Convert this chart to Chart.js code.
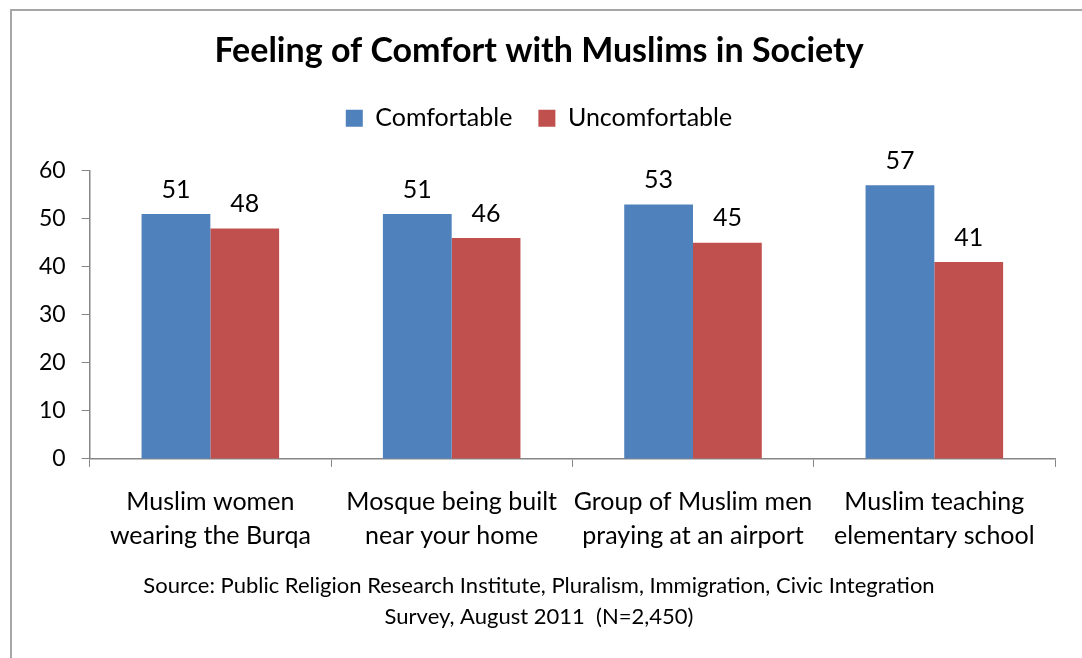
<!DOCTYPE html>
<html>
<head>
<meta charset="utf-8">
<script src="https://cdn.jsdelivr.net/npm/chart.js@4"></script>
<style>
  body { margin: 0; background: #fff; }
  #frame { position: absolute; left: 10px; top: 9px; width: 1100px; height: 700px; border: 2px solid #a6a6a6; box-sizing: border-box; }
  #chart { position: absolute; left: 0; top: 0; }
</style>
</head>
<body>
<div id="frame"></div>
<canvas id="chart" width="1082" height="658"></canvas>
<script>
var categories = [
    ["Muslim women", "wearing the Burqa"],
    ["Mosque being built", "near your home"],
    ["Group of Muslim men", "praying at an airport"],
    ["Muslim teaching", "elementary school"]
];
var comfortable = [51, 51, 53, 57];
var uncomfortable = [48, 46, 45, 41];

var fontFamily = "Lato, 'Open Sans', sans-serif";

// draws the value above each bar
var valueLabels = {
    id: "valueLabels",
    afterDatasetsDraw: function(chart) {
        var ctx = chart.ctx;
        ctx.save();
        ctx.font = "25px " + fontFamily;
        ctx.fillStyle = "#000";
        ctx.textAlign = "center";
        ctx.textBaseline = "bottom";
        chart.data.datasets.forEach(function(ds, i) {
            chart.getDatasetMeta(i).data.forEach(function(bar, j) {
                ctx.fillText(ds.data[j], bar.x, bar.y - 12);
            });
        });
        ctx.restore();
    }
};

// extra room under the legend
var legendGap = {
    id: "legendGap",
    beforeInit: function(chart) {
        var fit = chart.legend.fit;
        chart.legend.fit = function() {
            fit.call(this);
            this.height += 30;
        };
    }
};

new Chart(document.getElementById("chart"), {
    type: "bar",
    data: {
        labels: categories,
        datasets: [
            { label: "Comfortable", data: comfortable, backgroundColor: "#4F81BD" },
            { label: "Uncomfortable", data: uncomfortable, backgroundColor: "#C0504D" }
        ]
    },
    options: {
        responsive: false,
        animation: false,
        layout: { padding: { left: 23, right: 27, top: 31, bottom: 26 } },
        datasets: { bar: { categoryPercentage: 0.57, barPercentage: 1.0 } },
        plugins: {
            title: {
                display: true,
                text: "Feeling of Comfort with Muslims in Society",
                color: "#000",
                font: { family: fontFamily, size: 34, weight: "bold" },
                padding: { top: 0, bottom: 8 }
            },
            subtitle: {
                display: true,
                position: "bottom",
                text: ["Source: Public Religion Research Institute, Pluralism, Immigration, Civic Integration",
                       "Survey, August 2011  (N=2,450)"],
                color: "#000",
                font: { family: fontFamily, size: 22, lineHeight: 1.4 },
                padding: { top: 0, bottom: 0 }
            },
            legend: {
                labels: {
                    color: "#000",
                    boxWidth: 17,
                    boxHeight: 17,
                    padding: 26,
                    font: { family: fontFamily, size: 25 }
                }
            },
            tooltip: { enabled: false }
        },
        scales: {
            x: {
                grid: { drawOnChartArea: false, color: "#868686", tickLength: 8, offset: true },
                border: { color: "#868686", width: 1.5 },
                ticks: { color: "#000", padding: 18, maxRotation: 0, autoSkip: false, font: { family: fontFamily, size: 25, lineHeight: 1.35 } }
            },
            y: {
                min: 0,
                max: 60,
                ticks: { stepSize: 10, color: "#000", padding: 16, font: { family: fontFamily, size: 23 } },
                grid: { drawOnChartArea: false, color: "#868686", tickLength: 8 },
                border: { color: "#868686", width: 1.5 }
            }
        }
    },
    plugins: [valueLabels, legendGap]
});
</script>
</body>
</html>
